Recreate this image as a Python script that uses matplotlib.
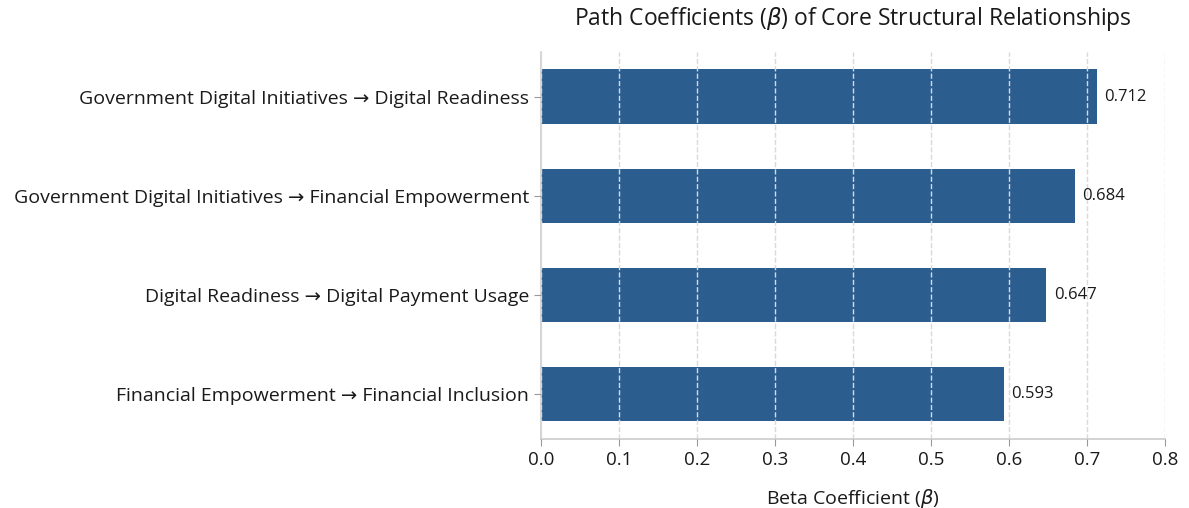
import matplotlib
matplotlib.use("Agg")
import matplotlib.pyplot as plt

plt.rcParams['font.family'] = ['Open Sans', 'DejaVu Sans']
plt.rcParams['mathtext.fontset'] = 'dejavusans'

# path labels, top to bottom
paths = [
    "Government Digital Initiatives \u2192 Digital Readiness",
    "Government Digital Initiatives \u2192 Financial Empowerment",
    "Digital Readiness \u2192 Digital Payment Usage",
    "Financial Empowerment \u2192 Financial Inclusion",
]
betas = [0.712, 0.684, 0.647, 0.593]

bar_color = '#2c5d8f'
axis_grey = '#cccccc'
text_color = '#1a1a1a'

fig = plt.figure(figsize=(11.89, 5.08), dpi=100)
ax = fig.add_axes([0.455, 0.136, 0.525, 0.762])

pos = list(range(len(paths)))[::-1]
ax.barh(pos, betas, height=0.55, color=bar_color, zorder=1)

for y, b in zip(pos, betas):
    ax.text(b + 0.01, y, f"{b:.3f}", va='center', ha='left', fontsize=12, color=text_color)

ax.set_yticks(pos)
ax.set_yticklabels(paths, fontsize=14)
ax.set_xlim(0, 0.8)
ax.set_xticks([i / 10 for i in range(9)])
ax.set_xticklabels([f"{i / 10:.1f}" for i in range(9)], fontsize=13.5)
ax.set_xlabel(r"Beta Coefficient ($\beta$)", fontsize=14, labelpad=13, color=text_color)
ax.set_title(r"Path Coefficients ($\beta$) of Core Structural Relationships",
             fontsize=16.5, pad=19, color=text_color)

ax.grid(axis='x', linestyle='--', color='#d9d9d9', linewidth=1, zorder=2)
ax.set_axisbelow(False)
for s in ('top', 'right'):
    ax.spines[s].set_visible(False)
for s in ('left', 'bottom'):
    ax.spines[s].set_color(axis_grey)
    ax.spines[s].set_linewidth(1.2)
ax.tick_params(colors='#999999', labelcolor=text_color, length=5)

fig.savefig("out.png", dpi=100, facecolor='white')
